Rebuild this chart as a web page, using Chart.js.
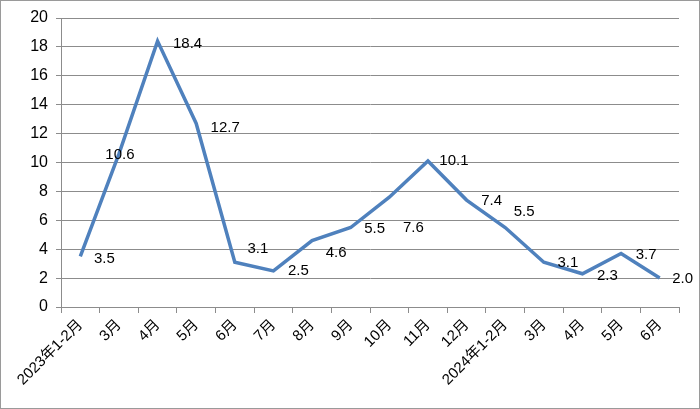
<!DOCTYPE html>
<html>
<head>
<meta charset="utf-8">
<script src="https://cdn.jsdelivr.net/npm/chart.js@4"></script>
<style>
  html, body { margin: 0; padding: 0; background: #fff; }
  #wrap { width: 700px; height: 409px; }
</style>
</head>
<body>
<div id="wrap"><canvas id="chart" width="700" height="409"></canvas></div>
<script>
// chart data
const months = ['2023年1-2月', '3月', '4月', '5月', '6月', '7月', '8月', '9月', '10月', '11月', '12月',
  '2024年1-2月', '3月', '4月', '5月', '6月'];
const values = [3.5, 10.6, 18.4, 12.7, 3.1, 2.5, 4.6, 5.5, 7.6, 10.1, 7.4, 5.5, 3.1, 2.3, 3.7, 2.0];

// where each value label sits relative to its point (px)
const labelShift = [[24, 2], [1, 1], [30, 3], [29, 4], [23, -13], [25, 0], [24, 12], [24, 1],
  [24, 31], [26, 0], [25, 1], [19, -16], [24, 1], [25, 2], [25, 1], [23, 1]];

const FONT = "'Liberation Sans', 'Noto Sans CJK SC', sans-serif";

// draws the value labels and the outer frame
const labelPlugin = {
  id: 'valueLabels',
  afterDatasetsDraw(chart) {
    const ctx = chart.ctx;
    const meta = chart.getDatasetMeta(0);
    ctx.save();
    ctx.font = '15px ' + FONT;
    ctx.fillStyle = '#000';
    ctx.textAlign = 'center';
    ctx.textBaseline = 'middle';
    meta.data.forEach((pt, i) => {
      const s = labelShift[i];
      ctx.fillText(values[i].toFixed(1), pt.x + s[0], pt.y + s[1]);
    });
    ctx.restore();
  },
  afterDraw(chart) {
    const ctx = chart.ctx;
    ctx.save();
    ctx.strokeStyle = '#9a9a9a';
    ctx.lineWidth = 1;
    ctx.strokeRect(0.5, 0.5, chart.width - 1, chart.height - 1);
    ctx.restore();
  }
};

new Chart(document.getElementById('chart').getContext('2d'), {
  type: 'line',
  data: {
    labels: months,
    datasets: [{
      data: values,
      borderColor: '#4F81BD',
      borderWidth: 3.5,
      pointRadius: 0,
      tension: 0,
      fill: false
    }]
  },
  options: {
    responsive: false,
    animation: false,
    layout: { padding: { top: 18, right: 21, left: 0, bottom: 0 } },
    plugins: {
      legend: { display: false },
      tooltip: { enabled: false }
    },
    scales: {
      x: {
        offset: true,
        grid: {
          offset: true,
          drawOnChartArea: false,
          drawTicks: true,
          tickLength: 6,
          color: '#8c8c8c'
        },
        border: { color: '#8c8c8c' },
        ticks: {
          color: '#000',
          minRotation: 45,
          maxRotation: 45,
          autoSkip: false,
          padding: 3,
          font: { family: FONT, size: 15 }
        },
        afterFit(scale) { scale.height = 102; }
      },
      y: {
        min: 0,
        max: 20,
        grid: {
          color: '#8c8c8c',
          tickLength: 5
        },
        border: { color: '#8c8c8c' },
        ticks: {
          stepSize: 2,
          color: '#000',
          padding: 8,
          font: { family: FONT, size: 16 }
        },
        afterFit(scale) { scale.width = 61; }
      }
    }
  },
  plugins: [labelPlugin]
});
</script>
</body>
</html>
